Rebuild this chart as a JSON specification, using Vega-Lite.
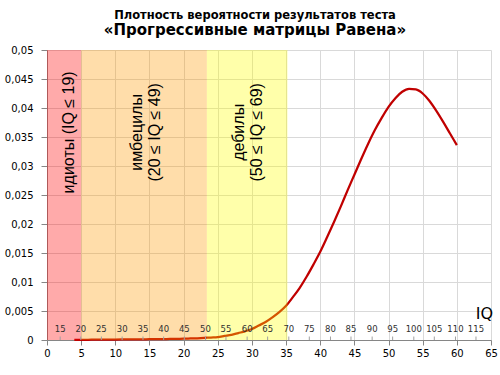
{
  "$schema": "https://vega.github.io/schema/vega-lite/v6.json",
  "width": 444,
  "height": 290,
  "autosize": {"type": "none"},
  "padding": {"left": 47, "top": 50, "right": 9, "bottom": 35},
  "background": "white",
  "title": {
    "text": "Плотность вероятности результатов теста",
    "subtitle": "«Прогрессивные матрицы Равена»",
    "anchor": "middle",
    "frame": "group",
    "font": "DejaVu Sans",
    "fontSize": 11.5,
    "fontWeight": "bold",
    "color": "#000000",
    "subtitleFont": "DejaVu Sans",
    "subtitleFontSize": 15,
    "subtitleFontWeight": "bold",
    "subtitleColor": "#000000",
    "subtitlePadding": 2,
    "offset": 7,
    "dx": -14
  },
  "config": {
    "view": {"stroke": null},
    "axis": {
      "title": null,
      "grid": true, "gridColor": "#d9d9d9", "gridWidth": 1,
      "domainColor": "#868686", "tickColor": "#868686",
      "labelFont": "DejaVu Sans", "labelFontSize": 10, "labelColor": "#000000",
      "labelOverlap": false, "labelFlush": false
    },
    "axisX": {"tickSize": 5, "labelPadding": 3},
    "axisY": {"tickSize": 6, "labelPadding": 8}
  },
  "datasets": {
    "curve": [
      {"x": 4, "density": 0.00002}, {"x": 5, "density": 0.00003}, {"x": 6, "density": 0.00004},
      {"x": 7, "density": 0.00005}, {"x": 8, "density": 0.00006}, {"x": 9, "density": 0.00007},
      {"x": 10, "density": 0.00008}, {"x": 11, "density": 0.00009}, {"x": 12, "density": 0.0001},
      {"x": 13, "density": 0.00011}, {"x": 14, "density": 0.00012}, {"x": 15, "density": 0.00013},
      {"x": 16, "density": 0.00014}, {"x": 17, "density": 0.00016}, {"x": 18, "density": 0.00018},
      {"x": 19, "density": 0.0002}, {"x": 20, "density": 0.00022}, {"x": 21, "density": 0.00026},
      {"x": 22, "density": 0.0003}, {"x": 23, "density": 0.00036}, {"x": 24, "density": 0.00043},
      {"x": 25, "density": 0.0005}, {"x": 26, "density": 0.0007}, {"x": 27, "density": 0.0009},
      {"x": 28, "density": 0.0012}, {"x": 29, "density": 0.0015}, {"x": 30, "density": 0.0019},
      {"x": 31, "density": 0.0025}, {"x": 32, "density": 0.0031}, {"x": 33, "density": 0.0039},
      {"x": 34, "density": 0.0048}, {"x": 35, "density": 0.0059}, {"x": 36, "density": 0.0074},
      {"x": 37, "density": 0.009}, {"x": 38, "density": 0.0109}, {"x": 39, "density": 0.013},
      {"x": 40, "density": 0.0152}, {"x": 41, "density": 0.0177}, {"x": 42, "density": 0.0203},
      {"x": 43, "density": 0.023}, {"x": 44, "density": 0.0258}, {"x": 45, "density": 0.0285},
      {"x": 46, "density": 0.0312}, {"x": 47, "density": 0.0338}, {"x": 48, "density": 0.0362},
      {"x": 49, "density": 0.0383}, {"x": 50, "density": 0.0402}, {"x": 51, "density": 0.0417},
      {"x": 52, "density": 0.0428}, {"x": 53, "density": 0.0433}, {"x": 54, "density": 0.0432},
      {"x": 55, "density": 0.0425}, {"x": 56, "density": 0.0412}, {"x": 57, "density": 0.0395},
      {"x": 58, "density": 0.0376}, {"x": 59, "density": 0.0356}, {"x": 60, "density": 0.0336}
    ],
    "bands": [
      {"group": "идиоты", "start": 0, "end": 5},
      {"group": "имбецилы", "start": 5, "end": 23.4},
      {"group": "дебилы", "start": 23.4, "end": 35.2}
    ],
    "bandLabels": [
      {"label": "идиоты (IQ ≤ 19)", "x": 3.25, "y": 0.0358},
      {"label": "имбецилы|(20 ≤ IQ ≤ 49)", "x": 13.2, "y": 0.0358},
      {"label": "дебилы|(50 ≤ IQ ≤ 69)", "x": 28.1, "y": 0.0358}
    ],
    "iq": [
      {"iq": 15, "x": 1.93}, {"iq": 20, "x": 4.95}, {"iq": 25, "x": 7.96}, {"iq": 30, "x": 11.0},
      {"iq": 35, "x": 14.05}, {"iq": 40, "x": 17.08}, {"iq": 45, "x": 20.1}, {"iq": 50, "x": 23.2},
      {"iq": 55, "x": 26.2}, {"iq": 60, "x": 29.3}, {"iq": 65, "x": 32.3}, {"iq": 70, "x": 35.4},
      {"iq": 75, "x": 38.4}, {"iq": 80, "x": 41.5}, {"iq": 85, "x": 44.5}, {"iq": 90, "x": 47.6},
      {"iq": 95, "x": 50.6}, {"iq": 100, "x": 53.7}, {"iq": 105, "x": 56.7}, {"iq": 110, "x": 59.8},
      {"iq": 115, "x": 62.8}
    ],
    "axisName": [{"name": "IQ", "x": 65.3, "y": 0.0045}]
  },
  "layer": [
    {
      "data": {"name": "curve"},
      "mark": {"type": "line", "color": "#C00000", "strokeWidth": 2.25, "interpolate": "monotone"},
      "encoding": {
        "x": {
          "field": "x", "type": "quantitative",
          "scale": {"domain": [0, 65], "nice": false, "zero": false},
          "axis": {"values": [0, 5, 10, 15, 20, 25, 30, 35, 40, 45, 50, 55, 60, 65]}
        },
        "y": {
          "field": "density", "type": "quantitative",
          "scale": {"domain": [0, 0.05], "nice": false},
          "axis": {"values": [0, 0.005, 0.01, 0.015, 0.02, 0.025, 0.03, 0.035, 0.04, 0.045, 0.05], "labelExpr": "replace(format(datum.value, '~g'), '.', ',')"}
        }
      }
    },
    {
      "data": {"name": "bands"},
      "mark": {"type": "rect", "opacity": 0.333},
      "encoding": {
        "x": {"field": "start", "type": "quantitative", "axis": {"values": [0, 5, 10, 15, 20, 25, 30, 35, 40, 45, 50, 55, 60, 65]}},
        "x2": {"field": "end"},
        "color": {
          "field": "group", "type": "nominal",
          "scale": {"domain": ["идиоты", "имбецилы", "дебилы"], "range": ["#FF0000", "#FF9900", "#FFFF00"]},
          "legend": null
        }
      }
    },
    {
      "data": {"name": "iq"},
      "mark": {"type": "rule", "color": "#a0a0a0", "strokeWidth": 1},
      "encoding": {
        "x": {"field": "x", "type": "quantitative", "axis": {"values": [0, 5, 10, 15, 20, 25, 30, 35, 40, 45, 50, 55, 60, 65]}},
        "y": {"datum": 0, "axis": {"values": [0, 0.005, 0.01, 0.015, 0.02, 0.025, 0.03, 0.035, 0.04, 0.045, 0.05], "labelExpr": "replace(format(datum.value, '~g'), '.', ',')"}},
        "y2": {"datum": 0.0006}
      }
    },
    {
      "data": {"name": "iq"},
      "mark": {"type": "text", "font": "DejaVu Sans", "fontSize": 8.5, "color": "#303030", "baseline": "middle", "align": "center"},
      "encoding": {
        "x": {"field": "x", "type": "quantitative", "axis": {"values": [0, 5, 10, 15, 20, 25, 30, 35, 40, 45, 50, 55, 60, 65]}},
        "y": {"datum": 0.0019, "axis": {"values": [0, 0.005, 0.01, 0.015, 0.02, 0.025, 0.03, 0.035, 0.04, 0.045, 0.05], "labelExpr": "replace(format(datum.value, '~g'), '.', ',')"}},
        "text": {"field": "iq", "type": "quantitative"}
      }
    },
    {
      "data": {"name": "bandLabels"},
      "mark": {"type": "text", "font": "Liberation Sans", "fontSize": 16, "color": "#000000", "angle": 270, "baseline": "middle", "align": "center", "lineBreak": "|", "lineHeight": 18},
      "encoding": {
        "x": {"field": "x", "type": "quantitative", "axis": {"values": [0, 5, 10, 15, 20, 25, 30, 35, 40, 45, 50, 55, 60, 65]}},
        "y": {"field": "y", "type": "quantitative", "axis": {"values": [0, 0.005, 0.01, 0.015, 0.02, 0.025, 0.03, 0.035, 0.04, 0.045, 0.05], "labelExpr": "replace(format(datum.value, '~g'), '.', ',')"}},
        "text": {"field": "label", "type": "nominal"}
      }
    },
    {
      "data": {"name": "axisName"},
      "mark": {"type": "text", "font": "DejaVu Sans", "fontSize": 16, "color": "#000000", "baseline": "middle", "align": "right"},
      "encoding": {
        "x": {"field": "x", "type": "quantitative", "axis": {"values": [0, 5, 10, 15, 20, 25, 30, 35, 40, 45, 50, 55, 60, 65]}},
        "y": {"field": "y", "type": "quantitative", "axis": {"values": [0, 0.005, 0.01, 0.015, 0.02, 0.025, 0.03, 0.035, 0.04, 0.045, 0.05], "labelExpr": "replace(format(datum.value, '~g'), '.', ',')"}},
        "text": {"field": "name", "type": "nominal"}
      }
    }
  ]
}
